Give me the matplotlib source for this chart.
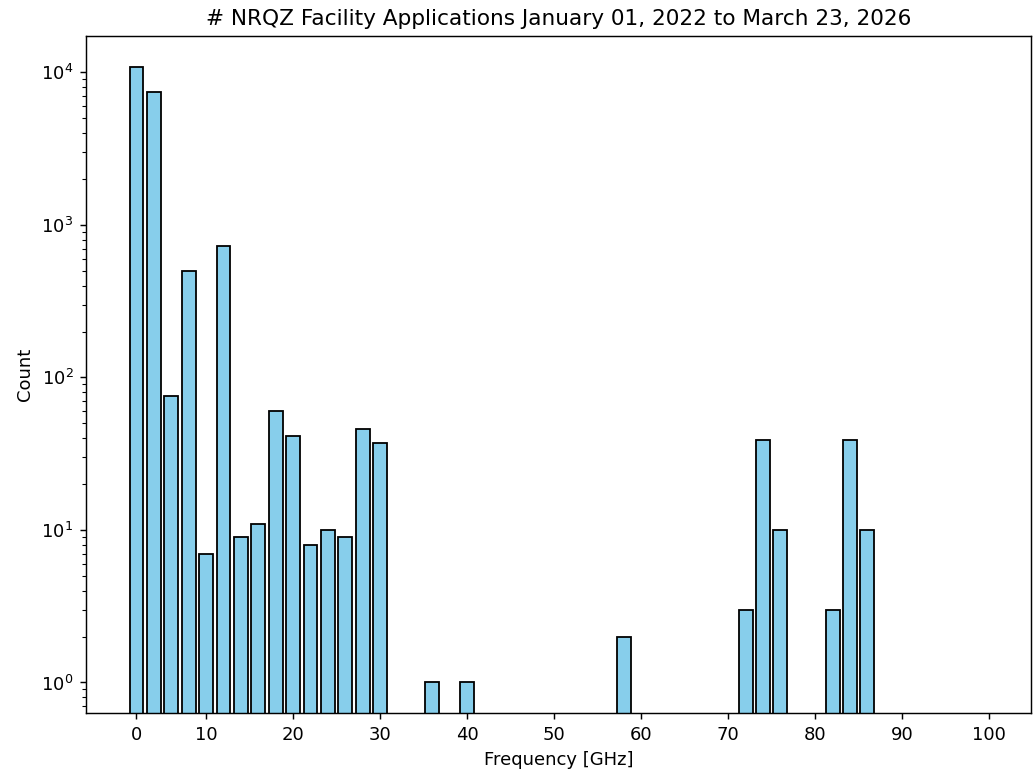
import numpy as np
import matplotlib
matplotlib.use("Agg")
import matplotlib.pyplot as plt

# ===== Binned application counts (2 GHz bins, labelled by bin centre) =====
freq_ghz = [2, 4, 6, 8, 10, 12, 14, 16, 18, 20, 22, 24, 26, 28, 30,
            36, 40, 58, 72, 74, 76, 82, 84, 86]
counts = [10850, 7430, 75, 500, 7, 725, 9, 11, 60, 41, 8, 10, 9, 46, 37,
          1, 1, 2, 3, 39, 10, 3, 39, 10]

tick_pos = [2, 10, 20, 30, 40, 50, 60, 70, 80, 90, 100]
tick_labels = ["0", "10", "20", "30", "40", "50", "60", "70", "80", "90", "100"]

title = "# NRQZ Facility Applications January 01, 2022 to March 23, 2026"

# ===== Figure =====
DPI = 130
fig = plt.figure(figsize=(1033 / DPI, 771 / DPI), dpi=DPI)
ax = fig.add_axes([86 / 1033, 1 - 713.3 / 771,
                   (1031 - 86) / 1033, (713.3 - 35.7) / 771])

ax.bar(freq_ghz, counts, width=1.6, color="skyblue", edgecolor="black",
       linewidth=1.0)
ax.set_yscale("log")
ax.set_ylim(0.628, 17400)
ax.set_xlim(-3.8, 104.8)

ax.set_xticks(tick_pos)
ax.set_xticklabels(tick_labels)

ax.set_xlabel("Frequency [GHz]")
ax.set_ylabel("Count")
ax.set_title(title, fontsize=12)

plt.savefig("out.png", dpi=DPI)
print("Saved out.png")
